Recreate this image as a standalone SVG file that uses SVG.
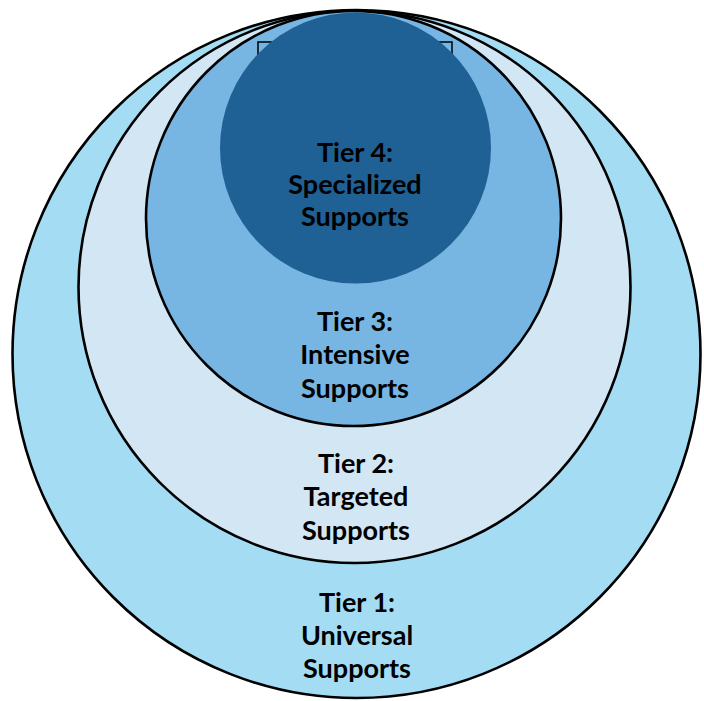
<svg xmlns="http://www.w3.org/2000/svg" width="704" height="701" viewBox="0 0 704 701">
<style>
.ring{stroke:#000;stroke-width:2.6}
.lbl{font-family:Lato,"Open Sans","Liberation Sans",sans-serif;font-weight:bold;font-size:27px;fill:#000;text-anchor:middle}
</style>
<rect width="704" height="701" fill="#fff"/>
<g id="tier1">
<circle class="ring" cx="356.5" cy="354" r="344" fill="#A4DDF3"/>
<text class="lbl" x="357" y="612">Tier 1:</text>
<text class="lbl" x="357" y="645">Universal</text>
<text class="lbl" x="357" y="678">Supports</text>
</g>
<g id="tier2">
<circle class="ring" cx="354.5" cy="287" r="276" fill="#D3E6F4"/>
<text class="lbl" x="356" y="473">Tier 2:</text>
<text class="lbl" x="356" y="506">Targeted</text>
<text class="lbl" x="356" y="540">Supports</text>
</g>
<g id="tier3">
<circle class="ring" cx="353.5" cy="218.5" r="207.5" fill="#77B5E2"/>
<text class="lbl" x="355" y="331">Tier 3:</text>
<text class="lbl" x="355" y="364">Intensive</text>
<text class="lbl" x="355" y="398">Supports</text>
</g>
<g id="bracket">
<rect x="258" y="42" width="194" height="40" fill="none" stroke="#000" stroke-width="1.5"/>
</g>
<g id="tier4">
<circle cx="355.5" cy="148" r="135.5" fill="#1F6195"/>
<text class="lbl" x="355" y="162">Tier 4:</text>
<text class="lbl" x="355" y="194">Specialized</text>
<text class="lbl" x="355" y="226">Supports</text>
</g>
<g id="connectors"></g>
</svg>
